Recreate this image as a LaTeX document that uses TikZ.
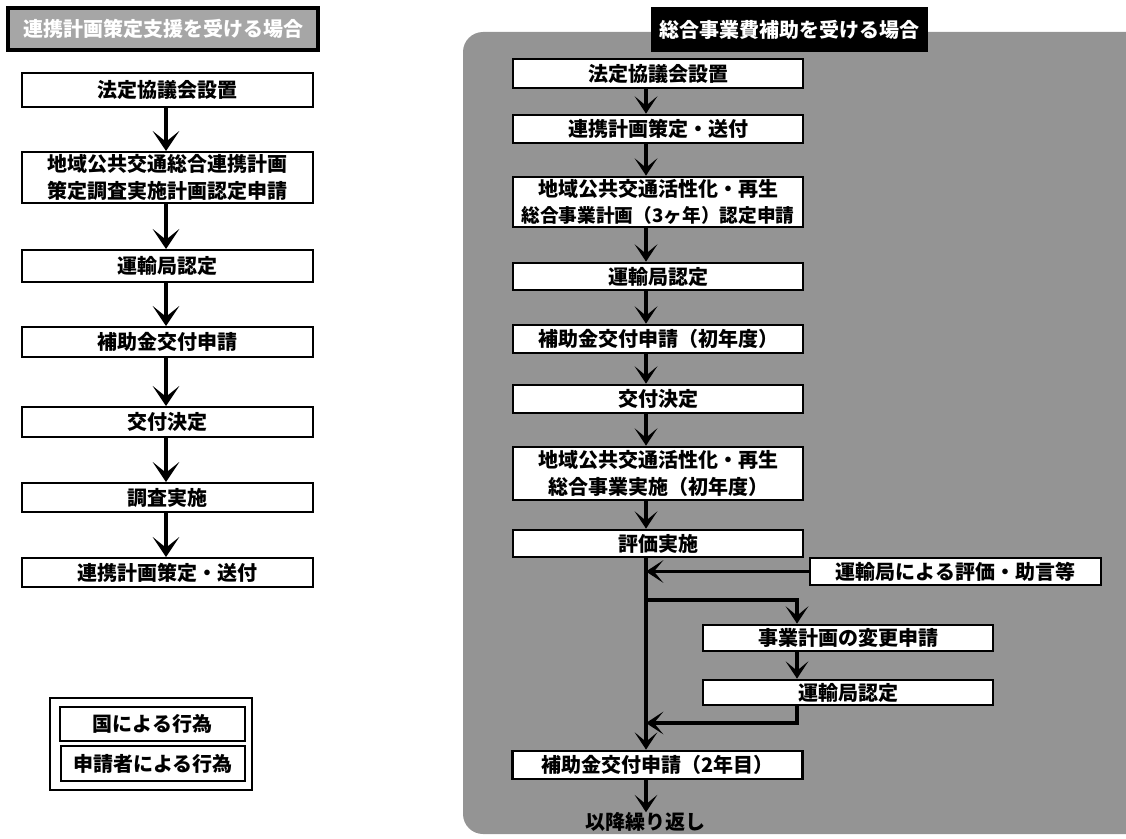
\documentclass[tikz,border=0pt]{standalone}
\usepackage{fontspec}
\setmainfont{Noto Sans CJK JP}
\usetikzlibrary{arrows.meta}
\begin{document}
\begin{tikzpicture}[x=0.75pt,y=-0.75pt,
  txt/.style={font=\fontsize{15}{20}\selectfont\bfseries, align=center, inner sep=0pt},
  lbox/.style={txt, draw, line width=1.5pt, fill=white, minimum width=218.25pt},
  rbox/.style={txt, draw, line width=2pt, fill=white, minimum width=217.5pt},
  arr/.style={line width=3pt, -{Stealth[length=15pt,width=20pt,inset=8pt]}},
  rarr/.style={line width=2.6pt, -{Stealth[length=13pt,width=17pt,inset=7pt]}}
]
\useasboundingbox (0,0) rectangle (1126,838);
% grey panel
\begin{scope}
\clip (0,0) rectangle (1126,838);
\fill[black!42, rounded corners=15pt] (463,32) rectangle (1160,834);
\end{scope}

% ---------- left column ----------
\node[txt, draw, line width=2.5pt, fill=black!35, text=white, minimum width=232.5pt, minimum height=31.5pt] (LT) at (163,29) {連携計画策定支援を受ける場合};
\node[lbox, minimum height=25.5pt] (L1) at (167.5,90) {法定協議会設置};
\node[lbox, minimum height=38.25pt] (L2) at (167.5,177.5) {地域公共交通総合連携計画\\策定調査実施計画認定申請};
\node[lbox, minimum height=24pt] (L3) at (167.5,266) {運輸局認定};
\node[lbox, minimum height=22.5pt] (L4) at (167.5,342) {補助金交付申請};
\node[lbox, minimum height=22.5pt] (L5) at (167.5,422) {交付決定};
\node[lbox, minimum height=21.75pt] (L6) at (167.5,497.5) {調査実施};
\node[lbox, minimum height=21.75pt] (L7) at (167.5,572.5) {連携計画策定・送付};
\coordinate (lx) at (166,0);
\foreach \a/\b in {L1/L2,L2/L3,L3/L4,L4/L5,L5/L6,L6/L7}
  \draw[arr] (\a.south -| lx) -- (\b.north -| lx);

% legend
\node[draw, line width=1pt, minimum width=151.5pt, minimum height=69pt] (LG) at (151,744) {};
\node[txt, draw, line width=1.2pt, minimum width=138.75pt, minimum height=25.5pt] (G1) at (152.5,724) {国による行為};
\node[txt, draw, line width=1.2pt, minimum width=138pt, minimum height=26.25pt] (G2) at (153,763.5) {申請者による行為};

% ---------- right column ----------
\node[txt, fill=black, text=white, minimum width=207.75pt, minimum height=33.75pt] (RT) at (789.5,29.5) {総合事業費補助を受ける場合};
\node[rbox, minimum height=21.75pt] (R1) at (658,73.5) {法定協議会設置};
\node[rbox, minimum height=21pt] (R2) at (658,129) {連携計画策定・送付};
\node[rbox, minimum height=37.5pt] (R3) at (658,202) {地域公共交通活性化・再生\\{\fontsize{14}{20}\selectfont 総合事業計画（3ヶ年）認定申請}};
\node[rbox, minimum height=20.25pt] (R4) at (658,276.5) {運輸局認定};
\node[rbox, minimum height=21pt] (R5) at (658,339) {補助金交付申請（初年度）};
\node[rbox, minimum height=21pt] (R6) at (658,399) {交付決定};
\node[rbox, minimum height=39.75pt] (R7) at (658,473.5) {地域公共交通活性化・再生\\総合事業実施（初年度）};
\node[rbox, minimum height=20.25pt] (R8) at (658,543.5) {評価実施};
\node[rbox, minimum width=218.25pt, minimum height=20.25pt] (E) at (955.5,571.5) {運輸局による評価・助言等};
\node[rbox, minimum height=19.5pt] (C) at (848,638) {事業計画の変更申請};
\node[rbox, minimum height=18.75pt] (A2) at (848,692.5) {運輸局認定};
\node[rbox, minimum height=21pt] (R9) at (657.5,765) {補助金交付申請（2年目）};
\node[txt] (REP) at (645,822) {以降繰り返し};

\coordinate (mx) at (646,0);
\coordinate (bx) at (797,0);
\coordinate (b1) at (646,600);
\coordinate (b2) at (646,723);
\foreach \a/\b in {R1/R2,R2/R3,R3/R4,R4/R5,R5/R6,R6/R7,R7/R8,R8/R9}
  \draw[rarr] (\a.south -| mx) -- (\b.north -| mx);
\draw[rarr] (E.west) -- (E.west -| mx);
\draw[rarr] (b1) -| (C.north -| bx);
\draw[rarr] (C.south -| bx) -- (A2.north -| bx);
\draw[rarr] (A2.south -| bx) |- (b2);
\draw[rarr] (R9.south -| mx) -- (REP.north -| mx);
\end{tikzpicture}
\end{document}
